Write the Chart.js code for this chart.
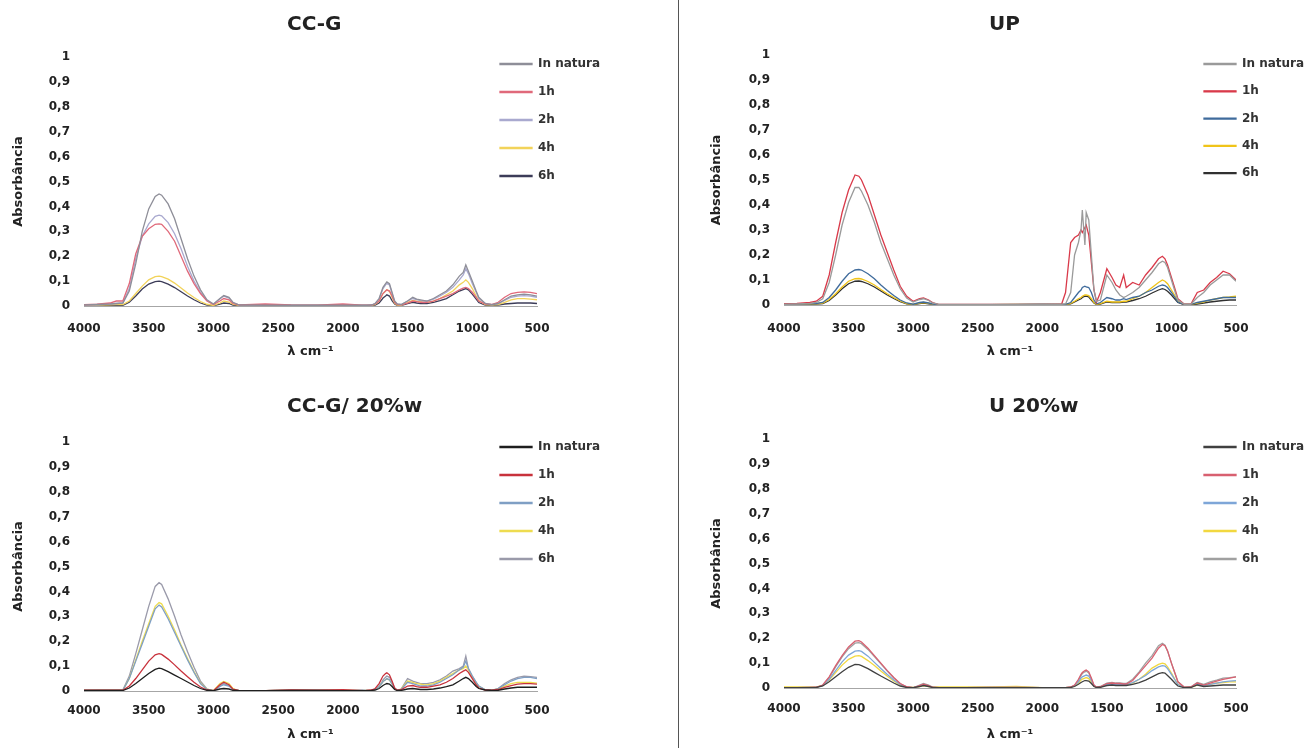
<!DOCTYPE html>
<html>
<head>
<meta charset="utf-8">
<script src="https://cdn.jsdelivr.net/npm/chart.js@4.4.1/dist/chart.umd.min.js"></script>
<style>
html,body{margin:0;padding:0;background:#fff;}
body{width:1309px;height:748px;position:relative;overflow:hidden;}
canvas{position:absolute;}
#sep{position:absolute;left:678px;top:0;width:1px;height:748px;background:#555;}
</style>
</head>
<body>
<canvas id="c1" width="676" height="372" style="left:0;top:0"></canvas>
<canvas id="c2" width="629" height="372" style="left:680px;top:0"></canvas>
<canvas id="c3" width="676" height="373" style="left:0;top:375px"></canvas>
<canvas id="c4" width="629" height="373" style="left:680px;top:375px"></canvas>
<div id="sep"></div>
<script>
// ---------- DATA ----------
const WAVENUMBERS = [4000,3900,3800,3750,3700,3650,3600,3550,3500,3450,
  3420,3400,3350,3300,3250,3200,3150,3100,3050,3000,
  2950,2920,2880,2850,2800,2600,2400,2200,2000,
  1850,1820,1780,1750,1720,1700,1690,1670,1660,1640,1620,1600,1580,1550,
  1500,1460,1430,1400,1370,1350,1300,1250,1200,1150,
  1100,1070,1050,1030,1000,970,950,900,850,800,
  750,700,650,600,550,500];
const SERIES_NAMES = ['In natura','1h','2h','4h','6h'];
const Y_TICK_LABELS = ['0','0,1','0,2','0,3','0,4','0,5','0,6','0,7','0,8','0,9','1'];
const X_TICK_VALUES = [4000,3500,3000,2500,2000,1500,1000,500];
const X_TICK_LABELS = ['4000','3500','3000','2500','2000','1500','1000','500'];
const PANEL_TITLES = ['CC-G','UP','CC-G/ 20%w','U 20%w'];
const Y_TITLE = 'Absorbância';
const X_TITLE = 'λ cm⁻¹';

// CC-G
const CCG_IN_NATURA = [0.004,0.006,0.008,0.01,0.012,0.06,0.17,0.3,0.39,0.44,
 0.45,0.445,0.41,0.35,0.27,0.19,0.12,0.065,0.025,0.008,
 0.03,0.042,0.035,0.015,0.004,0.003,0.003,0.003,0.003,
 0.003,0.003,0.004,0.01,0.03,0.06,0.075,0.09,0.097,0.09,0.055,0.02,0.008,0.006,
 0.02,0.035,0.028,0.025,0.022,0.02,0.03,0.045,0.06,0.085,
 0.12,0.135,0.165,0.14,0.1,0.06,0.035,0.01,0.005,0.01,
 0.025,0.04,0.045,0.048,0.045,0.04];
const CCG_1H = [0.005,0.007,0.012,0.02,0.02,0.09,0.21,0.28,0.31,0.328,
 0.33,0.328,0.3,0.26,0.2,0.14,0.09,0.05,0.02,0.006,
 0.02,0.03,0.025,0.01,0.004,0.008,0.004,0.003,0.008,
 0.003,0.003,0.004,0.008,0.02,0.04,0.05,0.06,0.065,0.06,0.04,0.015,0.006,0.005,
 0.012,0.02,0.018,0.015,0.014,0.015,0.02,0.03,0.04,0.05,
 0.065,0.072,0.075,0.07,0.055,0.035,0.02,0.008,0.006,0.015,
 0.035,0.05,0.055,0.057,0.055,0.05];
const CCG_2H = [0.004,0.005,0.008,0.01,0.012,0.07,0.19,0.28,0.33,0.36,
 0.365,0.362,0.335,0.29,0.23,0.16,0.1,0.055,0.022,0.007,
 0.028,0.04,0.032,0.014,0.004,0.003,0.003,0.003,0.003,
 0.003,0.003,0.004,0.01,0.028,0.055,0.07,0.085,0.09,0.085,0.05,0.018,0.007,0.005,
 0.02,0.03,0.026,0.022,0.02,0.02,0.028,0.04,0.055,0.075,
 0.105,0.125,0.15,0.13,0.09,0.055,0.03,0.01,0.005,0.01,
 0.022,0.035,0.04,0.042,0.04,0.035];
const CCG_4H = [0.003,0.004,0.005,0.006,0.006,0.02,0.05,0.08,0.105,0.118,
 0.12,0.118,0.108,0.092,0.072,0.052,0.034,0.018,0.007,0.002,
 0.012,0.02,0.016,0.007,0.002,0.002,0.002,0.002,0.002,
 0.002,0.002,0.003,0.006,0.02,0.04,0.05,0.06,0.065,0.06,0.035,0.012,0.004,0.003,
 0.015,0.022,0.02,0.018,0.015,0.015,0.02,0.03,0.045,0.06,
 0.085,0.095,0.105,0.095,0.07,0.04,0.022,0.006,0.004,0.006,
 0.015,0.025,0.03,0.03,0.028,0.025];
const CCG_6H = [0.002,0.002,0.003,0.003,0.003,0.015,0.04,0.068,0.088,0.098,
 0.1,0.098,0.088,0.074,0.057,0.04,0.025,0.012,0.004,0.001,
 0.008,0.012,0.01,0.004,0.001,0.001,0.001,0.001,0.001,
 0.001,0.001,0.002,0.004,0.012,0.025,0.032,0.04,0.045,0.04,0.022,0.008,0.003,0.002,
 0.01,0.015,0.012,0.01,0.01,0.01,0.015,0.022,0.03,0.045,
 0.06,0.066,0.07,0.065,0.048,0.028,0.014,0.004,0.002,0.004,
 0.008,0.01,0.012,0.012,0.012,0.01];

// UP
const UP_IN_NATURA = [0.003,0.004,0.006,0.01,0.025,0.09,0.2,0.32,0.41,0.47,
 0.47,0.455,0.4,0.33,0.25,0.185,0.12,0.065,0.028,0.012,
 0.022,0.025,0.018,0.008,0.002,0.002,0.002,0.003,0.004,
 0.003,0.004,0.05,0.2,0.25,0.3,0.38,0.24,0.37,0.34,0.2,0.06,0.015,0.02,
 0.12,0.09,0.06,0.04,0.03,0.035,0.05,0.07,0.1,0.13,
 0.165,0.175,0.17,0.15,0.1,0.05,0.02,0.003,0.003,0.03,
 0.05,0.08,0.1,0.12,0.12,0.095];
const UP_1H = [0.005,0.006,0.01,0.015,0.035,0.12,0.25,0.37,0.46,0.52,
 0.515,0.5,0.44,0.36,0.28,0.21,0.14,0.075,0.035,0.015,
 0.025,0.028,0.02,0.01,0.002,0.002,0.002,0.002,0.003,
 0.004,0.05,0.25,0.27,0.28,0.3,0.29,0.31,0.32,0.28,0.17,0.06,0.012,0.05,
 0.145,0.11,0.08,0.07,0.12,0.07,0.09,0.08,0.12,0.15,
 0.185,0.195,0.185,0.16,0.11,0.06,0.025,0.003,0.003,0.05,
 0.06,0.09,0.11,0.135,0.125,0.1];
const UP_2H = [0.003,0.004,0.005,0.006,0.01,0.03,0.06,0.095,0.125,0.14,
 0.142,0.14,0.125,0.105,0.08,0.058,0.038,0.02,0.008,0.003,
 0.01,0.012,0.008,0.004,0.001,0.001,0.001,0.001,0.002,
 0.002,0.003,0.01,0.03,0.05,0.06,0.07,0.075,0.072,0.07,0.05,0.02,0.005,0.01,
 0.03,0.025,0.02,0.02,0.025,0.022,0.03,0.035,0.05,0.06,
 0.075,0.08,0.078,0.07,0.05,0.028,0.012,0.002,0.002,0.01,
 0.015,0.02,0.025,0.03,0.03,0.03];
const UP_4H = [0.002,0.003,0.004,0.005,0.008,0.022,0.045,0.072,0.095,0.105,
 0.106,0.104,0.094,0.08,0.062,0.045,0.03,0.016,0.006,0.002,
 0.008,0.01,0.007,0.003,0.001,0.001,0.001,0.002,0.002,
 0.002,0.002,0.006,0.015,0.025,0.03,0.035,0.04,0.04,0.038,0.025,0.01,0.003,0.006,
 0.015,0.012,0.012,0.012,0.015,0.015,0.025,0.035,0.05,0.07,
 0.09,0.1,0.095,0.085,0.06,0.035,0.015,0.002,0.002,0.008,
 0.012,0.02,0.025,0.03,0.032,0.035];
const UP_6H = [0.002,0.002,0.003,0.004,0.006,0.018,0.04,0.065,0.085,0.095,
 0.096,0.094,0.085,0.072,0.056,0.04,0.026,0.013,0.005,0.001,
 0.006,0.008,0.005,0.002,0.001,0.001,0.001,0.001,0.001,
 0.001,0.002,0.005,0.012,0.02,0.025,0.03,0.035,0.035,0.032,0.02,0.008,0.002,0.004,
 0.012,0.01,0.01,0.01,0.012,0.012,0.018,0.025,0.035,0.048,
 0.06,0.065,0.062,0.055,0.04,0.022,0.01,0.001,0.001,0.004,
 0.008,0.012,0.015,0.018,0.02,0.02];

// CC-G/ 20%w
const CCGW_IN_NATURA = [0.002,0.002,0.002,0.002,0.002,0.012,0.03,0.05,0.07,0.087,
 0.092,0.09,0.078,0.064,0.05,0.036,0.022,0.01,0.003,0.001,
 0.008,0.01,0.008,0.003,0.001,0.001,0.002,0.002,0.001,
 0.001,0.001,0.002,0.004,0.01,0.018,0.022,0.028,0.03,0.028,0.018,0.006,0.002,0.002,
 0.008,0.01,0.008,0.006,0.006,0.006,0.008,0.012,0.018,0.025,
 0.04,0.05,0.055,0.05,0.035,0.018,0.01,0.004,0.002,0.003,
 0.008,0.012,0.015,0.015,0.015,0.015];
const CCGW_1H = [0.003,0.003,0.003,0.003,0.003,0.02,0.05,0.085,0.12,0.145,
 0.15,0.147,0.128,0.105,0.08,0.057,0.035,0.016,0.004,0.001,
 0.025,0.035,0.025,0.008,0.001,0.001,0.004,0.003,0.005,
 0.001,0.002,0.004,0.01,0.03,0.05,0.06,0.07,0.073,0.065,0.04,0.012,0.003,0.005,
 0.02,0.022,0.018,0.015,0.015,0.015,0.02,0.025,0.035,0.05,
 0.07,0.08,0.085,0.075,0.05,0.025,0.012,0.004,0.003,0.006,
 0.015,0.022,0.028,0.03,0.03,0.028];
const CCGW_2H = [0.002,0.002,0.002,0.002,0.003,0.05,0.12,0.19,0.26,0.33,
 0.345,0.338,0.29,0.235,0.18,0.125,0.075,0.03,0.006,0.001,
 0.018,0.025,0.02,0.006,0.001,0.001,0.003,0.003,0.002,
 0.001,0.002,0.003,0.006,0.018,0.03,0.038,0.045,0.05,0.045,0.028,0.01,0.003,0.006,
 0.035,0.03,0.025,0.02,0.02,0.02,0.025,0.035,0.05,0.065,
 0.085,0.095,0.12,0.09,0.06,0.035,0.02,0.005,0.003,0.01,
 0.025,0.04,0.05,0.055,0.055,0.05];
const CCGW_4H = [0.002,0.002,0.002,0.002,0.003,0.05,0.125,0.2,0.27,0.34,
 0.355,0.35,0.3,0.245,0.185,0.13,0.078,0.032,0.007,0.001,
 0.03,0.038,0.03,0.01,0.001,0.001,0.003,0.003,0.003,
 0.001,0.002,0.003,0.006,0.018,0.03,0.038,0.045,0.048,0.045,0.028,0.01,0.003,0.008,
 0.04,0.035,0.03,0.028,0.025,0.025,0.03,0.04,0.055,0.07,
 0.085,0.09,0.1,0.085,0.055,0.03,0.018,0.005,0.003,0.008,
 0.02,0.03,0.035,0.035,0.035,0.032];
const CCGW_6H = [0.002,0.003,0.003,0.003,0.004,0.06,0.15,0.245,0.34,0.42,
 0.435,0.428,0.37,0.3,0.225,0.158,0.095,0.04,0.008,0.001,
 0.02,0.03,0.022,0.008,0.001,0.001,0.003,0.003,0.002,
 0.004,0.002,0.003,0.006,0.02,0.035,0.045,0.055,0.06,0.055,0.035,0.012,0.003,0.008,
 0.05,0.04,0.035,0.03,0.03,0.03,0.035,0.045,0.06,0.08,
 0.09,0.1,0.14,0.09,0.06,0.035,0.02,0.005,0.003,0.01,
 0.03,0.045,0.055,0.06,0.058,0.055];

// U 20%w
const UW_IN_NATURA = [0.001,0.001,0.001,0.002,0.008,0.025,0.045,0.065,0.083,0.095,
 0.094,0.09,0.078,0.063,0.048,0.034,0.02,0.008,0.002,0.001,
 0.006,0.01,0.006,0.002,0.001,0.001,0.001,0.001,0.001,
 0.001,0.001,0.002,0.006,0.015,0.022,0.025,0.03,0.03,0.028,0.018,0.006,0.002,0.003,
 0.01,0.012,0.01,0.01,0.01,0.01,0.015,0.022,0.032,0.045,
 0.058,0.062,0.06,0.05,0.035,0.018,0.008,0.001,0.002,0.012,
 0.006,0.008,0.01,0.012,0.012,0.012];
const UW_1H = [0.001,0.001,0.002,0.003,0.012,0.045,0.09,0.13,0.165,0.188,
 0.19,0.185,0.16,0.13,0.1,0.07,0.042,0.018,0.005,0.001,
 0.01,0.015,0.01,0.003,0.001,0.001,0.002,0.002,0.001,
 0.001,0.001,0.004,0.012,0.035,0.055,0.062,0.07,0.072,0.065,0.04,0.012,0.003,0.005,
 0.018,0.02,0.018,0.018,0.016,0.016,0.03,0.06,0.09,0.12,
 0.16,0.175,0.17,0.15,0.1,0.055,0.025,0.003,0.004,0.02,
 0.012,0.02,0.028,0.035,0.04,0.045];
const UW_2H = [0.001,0.001,0.002,0.003,0.01,0.035,0.07,0.105,0.132,0.148,
 0.15,0.147,0.128,0.103,0.078,0.054,0.032,0.014,0.004,0.001,
 0.008,0.012,0.008,0.003,0.001,0.001,0.002,0.002,0.001,
 0.001,0.001,0.003,0.01,0.025,0.04,0.045,0.05,0.052,0.048,0.03,0.01,0.002,0.004,
 0.015,0.016,0.015,0.015,0.014,0.014,0.022,0.035,0.05,0.07,
 0.085,0.09,0.088,0.078,0.055,0.03,0.014,0.002,0.003,0.015,
 0.01,0.015,0.02,0.025,0.028,0.03];
const UW_4H = [0.004,0.004,0.004,0.004,0.01,0.032,0.062,0.092,0.115,0.128,
 0.13,0.127,0.11,0.09,0.068,0.047,0.028,0.012,0.004,0.002,
 0.006,0.01,0.006,0.004,0.004,0.004,0.004,0.006,0.001,
 0.001,0.001,0.003,0.008,0.02,0.032,0.036,0.04,0.042,0.038,0.024,0.008,0.002,0.004,
 0.014,0.015,0.014,0.014,0.013,0.013,0.02,0.035,0.055,0.08,
 0.095,0.1,0.097,0.085,0.06,0.032,0.015,0.002,0.003,0.012,
 0.01,0.015,0.02,0.022,0.025,0.025];
const UW_6H = [0.001,0.001,0.002,0.003,0.011,0.042,0.085,0.125,0.158,0.18,
 0.182,0.178,0.155,0.126,0.097,0.068,0.04,0.017,0.005,0.001,
 0.012,0.018,0.012,0.004,0.001,0.001,0.002,0.002,0.001,
 0.001,0.001,0.004,0.01,0.03,0.05,0.058,0.065,0.068,0.06,0.036,0.01,0.003,0.006,
 0.02,0.022,0.02,0.02,0.018,0.018,0.035,0.065,0.1,0.13,
 0.17,0.18,0.172,0.148,0.1,0.055,0.025,0.003,0.004,0.022,
 0.015,0.025,0.032,0.04,0.042,0.045];

// ---------- LAYOUT / STYLE ----------
const FONT = "'DejaVu Sans', 'Liberation Sans', Arial, sans-serif";
Chart.defaults.font.family = FONT;
Chart.defaults.color = '#222';

const PANELS = [
  {id:'c1', title:PANEL_TITLES[0], series:[CCG_IN_NATURA,CCG_1H,CCG_2H,CCG_4H,CCG_6H],
   colors:['#8e8e98','#e0697a','#a9a9cf','#f2d35a','#3c3c58'],
   W:676, H:372, plotLeft:84, plotRight:537, plotTop:57, plotBottom:306,
   titleX:287, titleY:25, yTitleX:19, xTickY:329, xTitleY:352, legX:500, legY:64, legStep:28},
  {id:'c2', title:PANEL_TITLES[1], series:[UP_IN_NATURA,UP_1H,UP_2H,UP_4H,UP_6H],
   colors:['#9a9a9a','#d93a4a','#3f6b9c','#f0c419','#303030'],
   W:629, H:372, plotLeft:104, plotRight:556, plotTop:55, plotBottom:305,
   titleX:309, titleY:25, yTitleX:37, xTickY:329, xTitleY:352, legX:524, legY:64, legStep:27.3},
  {id:'c3', title:PANEL_TITLES[2], series:[CCGW_IN_NATURA,CCGW_1H,CCGW_2H,CCGW_4H,CCGW_6H],
   colors:['#1e1e1e','#c8323c','#7f9fc4','#eedc50','#9a9aaa'],
   W:676, H:373, plotLeft:84, plotRight:537, plotTop:67, plotBottom:316,
   titleX:287, titleY:32, yTitleX:19, xTickY:336, xTitleY:360, legX:500, legY:72, legStep:28},
  {id:'c4', title:PANEL_TITLES[3], series:[UW_IN_NATURA,UW_1H,UW_2H,UW_4H,UW_6H],
   colors:['#404040','#d86070','#7ea6d8','#f2d840','#a0a0a0'],
   W:629, H:373, plotLeft:104, plotRight:556, plotTop:64, plotBottom:313,
   titleX:309, titleY:32, yTitleX:37, xTickY:334, xTitleY:360, legX:524, legY:72, legStep:28}
];

const LEG_FONT = 12;
const placer = {
  id: 'placer',
  afterLayout(chart, args, opts) {
    const lg = chart.legend;
    if (lg) {
      const pad = lg.options.labels.padding;
      lg.left = opts.legX - pad;
      lg.right = chart.width;
      lg.top = opts.legY - pad - LEG_FONT / 2;
      lg.bottom = chart.chartArea.bottom + 4;
    }
    const tb = chart.titleBlock;
    if (tb) {
      tb.left = opts.titleX;
      tb.right = chart.width;
    }
  }
};

function build(p) {
  const datasets = p.series.map((vals, i) => ({
    label: SERIES_NAMES[i],
    data: WAVENUMBERS.map((w, j) => ({x: w, y: vals[j]})),
    borderColor: p.colors[i],
    backgroundColor: p.colors[i],
    borderWidth: 1.3,
    pointRadius: 0,
    tension: 0,
    fill: false
  }));
  const titleFont = 20, titleLH = titleFont * 1.2;
  const axisTitleFont = 13, axisLH = axisTitleFont * 1.2;
  const tickFont = 12, tickLH = tickFont * 1.2;
  new Chart(document.getElementById(p.id), {
    type: 'line',
    data: {datasets},
    options: {
      responsive: false,
      animation: false,
      layout: {padding: {left: 0, top: 0, bottom: 0, right: p.W - p.plotRight}},
      plugins: {
        title: {display: true, text: p.title, fullSize: false, align: 'start', color: '#222',
          font: {size: titleFont, weight: 'bold', family: FONT},
          padding: {top: p.titleY - titleLH / 2, bottom: p.plotTop - p.titleY - titleLH / 2}},
        legend: {display: true, position: 'chartArea', align: 'start',
          labels: {boxWidth: 32, boxHeight: 1, padding: p.legStep - LEG_FONT, color: '#333',
            font: {size: LEG_FONT, weight: 'bold', family: FONT}}},
        placer: {legX: p.legX, legY: p.legY, titleX: p.titleX},
        tooltip: {enabled: false}
      },
      scales: {
        x: {type: 'linear', reverse: true, min: 500, max: 4000,
          ticks: {stepSize: 500, autoSkip: false, maxRotation: 0, color: '#222',
            padding: p.xTickY - p.plotBottom - tickLH / 2,
            font: {size: tickFont, weight: 'bold', family: FONT},
            callback: v => X_TICK_LABELS[X_TICK_VALUES.indexOf(v)]},
          grid: {display: false, drawTicks: false},
          border: {display: true, color: '#a6a6a6', width: 1},
          title: {display: true, text: X_TITLE, color: '#222',
            font: {size: axisTitleFont, weight: 'bold', family: FONT},
            padding: {top: 0, bottom: p.H - p.xTitleY - axisLH / 2}},
          afterFit: s => { s.height = p.H - p.plotBottom; }
        },
        y: {min: 0, max: 1,
          ticks: {stepSize: 0.1, padding: 14, color: '#222',
            font: {size: tickFont, weight: 'bold', family: FONT},
            callback: v => Y_TICK_LABELS[Math.round(v * 10)]},
          grid: {display: false, drawTicks: false},
          border: {display: false},
          title: {display: true, text: Y_TITLE, color: '#222',
            font: {size: axisTitleFont, weight: 'bold', family: FONT},
            padding: {top: p.yTitleX - axisLH / 2, bottom: 0}},
          afterFit: s => { s.width = p.plotLeft; }
        }
      }
    },
    plugins: [placer]
  });
}
PANELS.forEach(build);
</script>
</body>
</html>
